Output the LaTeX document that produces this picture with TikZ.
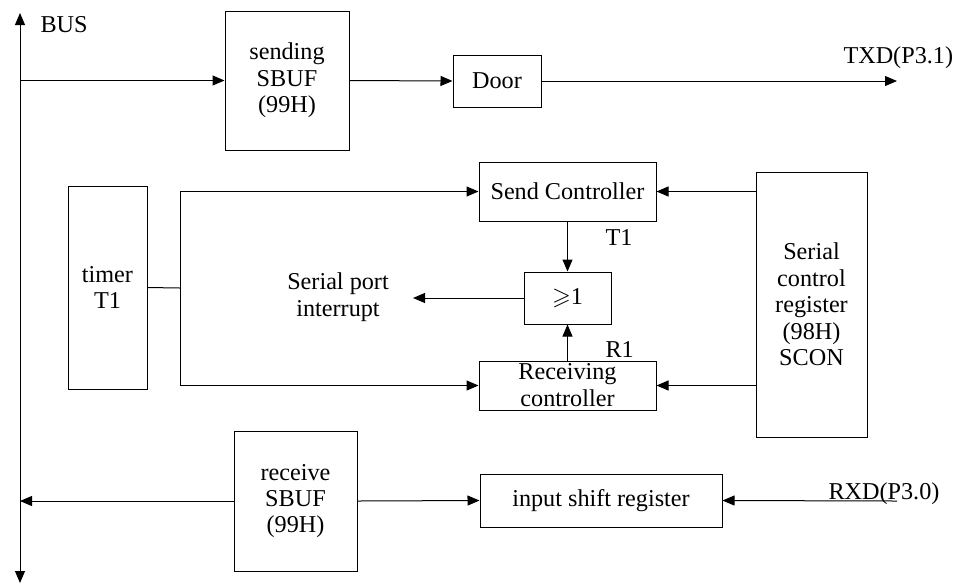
\documentclass[tikz,border=0pt]{standalone}
\usepackage{amsmath}
\usepackage{amssymb}
\usepackage{fontspec}
\setmainfont{Liberation Serif}
\usetikzlibrary{arrows.meta}

\begin{document}
\begin{tikzpicture}[x=0.5pt,y=-0.5pt,line width=0.5pt,
	every node/.style={align=center,font=\fontsize{12.1}{13.2}\selectfont},
	box/.style={draw,inner sep=0pt},
	lbl/.style={anchor=base west,inner sep=0pt},
	link/.style={-{Triangle[length=6pt,width=5pt]}}]
		\useasboundingbox (0,0) rectangle (957,585);
		\node [box,minimum width=62pt,minimum height=69.5pt] (sbufS) at (287,80.5) {sending \\ SBUF \\ (99H)};
		\node [box,minimum width=44pt,minimum height=26pt] (door) at (497,81) {Door};
		\node [box,minimum width=88.5pt,minimum height=29.5pt] (sendc) at (567.5,191.5) {Send Controller};
		\node [box,minimum width=43.5pt,minimum height=26pt] (orgate) at (567.5,298) {$\geqslant$1};
		\node [box,minimum width=88.5pt,minimum height=24.5pt] (recvc) at (567.5,385.5) {};
		\node (recvtext) at (567.5,385) {Receiving \\ controller};
		\node [box,minimum width=39.5pt,minimum height=101.5pt] (timer) at (107.5,287.5) {timer \\ T1};
		\node [box,minimum width=55.5pt,minimum height=132.5pt] (scon) at (811.5,304.5) {Serial \\ control \\ register \\ (98H) \\ SCON};
		\node [box,minimum width=61.5pt,minimum height=70pt] (sbufR) at (295.5,501) {receive \\ SBUF \\ (99H)};
		\node [box,minimum width=121pt,minimum height=26.5pt] (shiftreg) at (601,500.5) {input shift register};
		% bus
		\coordinate (bustop) at (20,13);
		\coordinate (busbot) at (20,583);
		\draw [{Triangle[length=6pt,width=5pt]}-{Triangle[length=6pt,width=5pt]}] (bustop) -- (busbot);
		\node [lbl] (buslabel) at (40,32) {BUS};
		% sending side
		\draw [link] (bustop |- sbufS) -- (sbufS.west);
		\draw [link] (sbufS.east) -- (door.west);
		\coordinate (txd) at (897,81);
		\draw [link] (door.east) -- (txd);
		\node [lbl] (txdlabel) at (843,63) {TXD(P3.1)};
		% control part
		\coordinate (tjoin) at (180,288);
		\draw (timer.east) -- (tjoin);
		\draw [link] (tjoin) |- (sendc.west);
		\draw [link] (tjoin) |- (recvc.west);
		\draw [link] (scon.west |- sendc) -- (sendc.east);
		\draw [link] (scon.west |- recvc) -- (recvc.east);
		\draw [link] (sendc.south) -- (orgate.north);
		\draw [link] (recvc.north) -- (orgate.south);
		\node [lbl] (tlabel) at (605,245) {T1};
		\node [lbl] (rlabel) at (605,357) {R1};
		\coordinate (intr) at (413,298);
		\draw [link] (orgate.west) -- (intr);
		\node (intrlabel) at (338,297) {Serial port \\ interrupt};
		% receiving side
		\draw [link] (sbufR.west) -- (bustop |- sbufR);
		\draw [link] (sbufR.east) -- (shiftreg.west);
		\coordinate (rxd) at (897,501);
		\draw [link] (rxd) -- (shiftreg.east);
		\node [lbl] (rxdlabel) at (828,499) {RXD(P3.0)};
	\end{tikzpicture}
\end{document}
